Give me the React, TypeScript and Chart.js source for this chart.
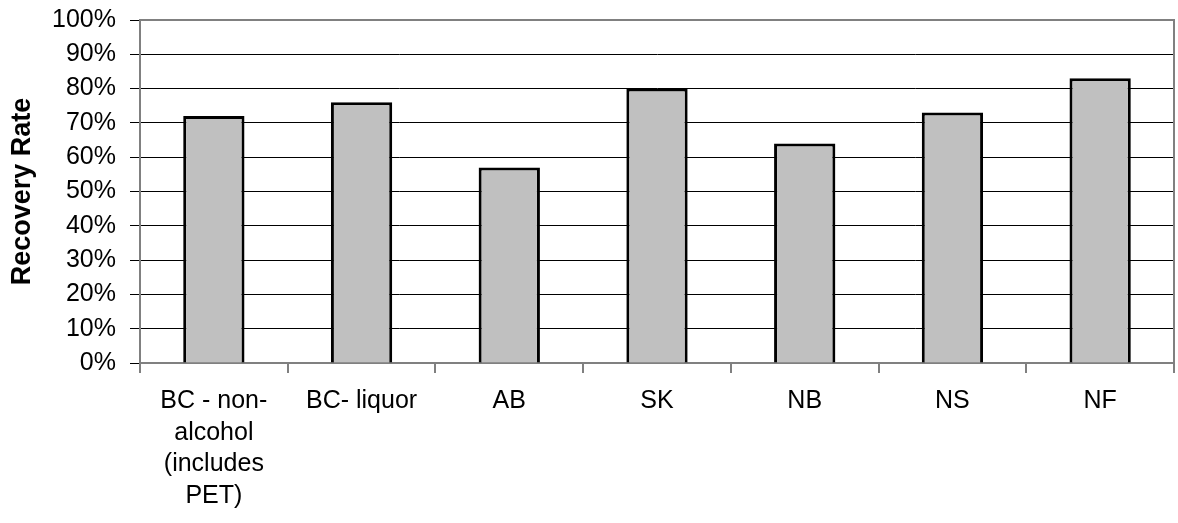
import React, { useEffect, useRef } from "react";
import { Chart, registerables } from "chart.js";

Chart.register(...registerables);

const categories: string[][] = [
  ["BC - non-", "alcohol", "(includes", "PET)"],
  ["BC- liquor"],
  ["AB"],
  ["SK"],
  ["NB"],
  ["NS"],
  ["NF"],
];
const recoveryRates: number[] = [72, 76, 57, 80, 64, 73, 83];
const yAxisTitle = "Recovery Rate";

const FONT = "'Liberation Sans', Arial, sans-serif";

const borderPlugin = {
  id: "plotBorder",
  afterDraw(chart: any) {
    const { ctx, chartArea } = chart;
    ctx.save();
    ctx.strokeStyle = "#808080";
    ctx.lineWidth = 2;
    ctx.beginPath();
    ctx.moveTo(chartArea.left, chartArea.top);
    ctx.lineTo(chartArea.right, chartArea.top);
    ctx.lineTo(chartArea.right, chartArea.bottom);
    ctx.stroke();
    ctx.restore();
  },
};

export default function App() {
  const ref = useRef<HTMLCanvasElement | null>(null);
  useEffect(() => {
    document.body.style.margin = "0";
    const chart = new Chart(ref.current!, {
      type: "bar",
      data: {
        labels: categories as any,
        datasets: [
          {
            data: recoveryRates,
            backgroundColor: "#C0C0C0",
            borderColor: "#000000",
            borderWidth: 3,
            categoryPercentage: 1,
            barPercentage: 0.415,
          },
        ],
      },
      options: {
        animation: false,
        responsive: false,
        layout: { padding: { top: 12, right: 4, left: 0, bottom: 0 } },
        plugins: { legend: { display: false }, tooltip: { enabled: false } },
        scales: {
          x: {
            grid: {
              offset: true,
              drawOnChartArea: false,
              color: "#808080",
              tickLength: 10,
              lineWidth: 2,
            },
            border: { color: "#808080", width: 2 },
            ticks: {
              color: "#000",
              font: { family: FONT, size: 25, lineHeight: 1.27 },
              padding: 12,
              maxRotation: 0,
              autoSkip: false,
            },
            afterFit(scale: any) {
              scale.height = 160;
            },
          },
          y: {
            min: 0,
            max: 100,
            ticks: {
              stepSize: 10,
              color: "#000",
              font: { family: FONT, size: 25, lineHeight: 0.48 },
              padding: 14,
              callback: (v: any) => v + "%",
            },
            grid: { color: "#000", lineWidth: 1, tickLength: 10 },
            border: { color: "#808080", width: 2 },
            title: {
              display: true,
              text: yAxisTitle,
              color: "#000",
              font: { family: FONT, size: 27, weight: "bold" },
              padding: { top: 6, bottom: 0 },
            },
            afterFit(scale: any) {
              scale.width = 140;
            },
          },
        },
      },
      plugins: [borderPlugin],
    });
    return () => chart.destroy();
  }, []);
  return (
    <div style={{ position: "absolute", left: 0, top: 0, width: 1178, height: 523 }}>
      <canvas ref={ref} width={1178} height={523} />
    </div>
  );
}
